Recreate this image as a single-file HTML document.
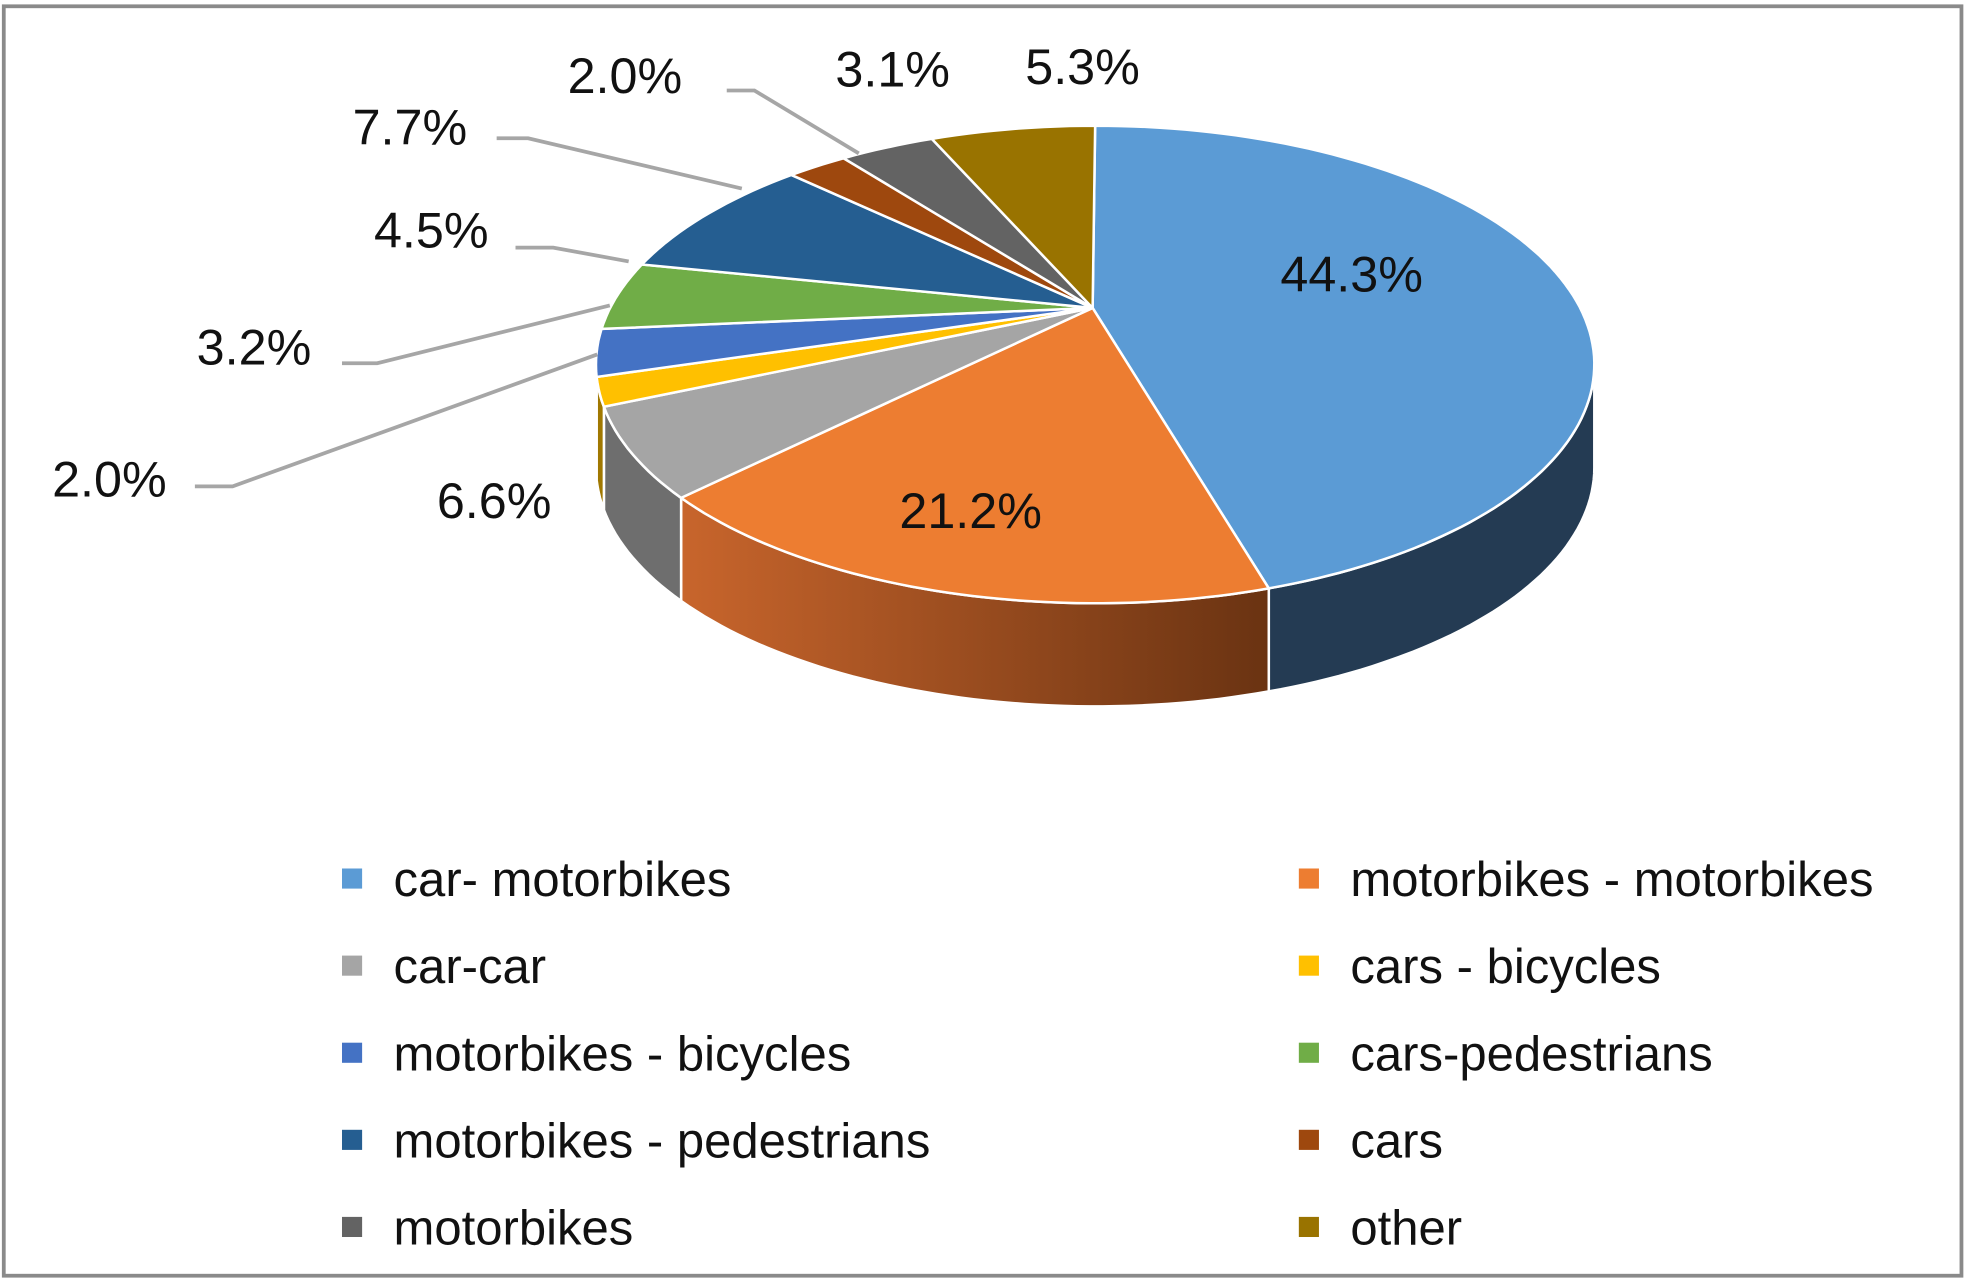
<!DOCTYPE html>
<html><head><meta charset="utf-8"><style>
html,body{margin:0;padding:0;background:#fff;}
svg{display:block;font-family:"Liberation Sans",Arial,sans-serif;}
</style></head><body>
<svg id="chart" width="1969" height="1282" viewBox="0 0 1566 1020" preserveAspectRatio="none" xmlns="http://www.w3.org/2000/svg">
<defs>
<linearGradient id="gOrange" x1="0" x2="1" y1="0" y2="0"><stop offset="0" stop-color="#c8652c"/><stop offset="1" stop-color="#6a3312"/></linearGradient>
</defs>
<rect x="3" y="5" width="1557" height="1010" fill="#fff" stroke="#8a8a8a" stroke-width="3"/>
<g id="sides"></g><g id="tops"></g><g id="leaders"></g><g id="labels"></g><g id="legend"></g>
</svg>
<script>
const categories = ["car- motorbikes","motorbikes - motorbikes","car-car","cars - bicycles","motorbikes - bicycles","cars-pedestrians","motorbikes - pedestrians","cars","motorbikes","other"];
const values = [44.3,21.2,6.6,2.0,3.2,4.5,7.7,2.0,3.1,5.3];
const valueLabels = ["44.3%","21.2%","6.6%","2.0%","3.2%","4.5%","7.7%","2.0%","3.1%","5.3%"];
const colors = ["#5b9bd5","#ed7d31","#a5a5a5","#ffc000","#4472c4","#70ad47","#255e91","#9e480e","#636363","#997300"];
const sideColors = ["#243b53","url(#gOrange)","#6e6e6e","#a07800","#2c4a80","#4a7530","#183e60","#6a300a","#424242","#665000"];
const labelPos = [[1075,232],[772,420],[393,412],[87,395],[202,290],[343,197],[326,115],[497,74],[710,69],[861,67]];
const leaderPts = [null,null,null,[[155,387],[185,387],[475,282]],[[272,289],[300,289],[485,243]],[[410,197],[440,197],[500,208]],[[395,110],[420,110],[590,150]],[[578,72],[600,72],[683,122]],null,null];
const NS="http://www.w3.org/2000/svg";
const cx=871, cy=290, rx=397, ry=190, depth=82, ax=869, ay=245;
const total=values.reduce((a,b)=>a+b,0);
function pt(deg,dy){const r=deg*Math.PI/180;return [cx+rx*Math.sin(r), cy-ry*Math.cos(r)+(dy||0)];}
function arcPts(a0,a1,dy){const p=[];const n=Math.max(4,Math.ceil((a1-a0)/1.5));for(let i=0;i<=n;i++)p.push(pt(a0+(a1-a0)*i/n,dy));return p;}
const sides=document.getElementById('sides'),tops=document.getElementById('tops'),labels=document.getElementById('labels'),leaders=document.getElementById('leaders'),legend=document.getElementById('legend');
let cum=0;
values.forEach((v,i)=>{
  const a0=cum/total*360, a1=(cum+v)/total*360; cum+=v;
  const s0=Math.max(a0,90), s1=Math.min(a1,270);
  if(s1>s0){
    const top=arcPts(s0,s1,0), bot=arcPts(s0,s1,depth).reverse();
    const side=document.createElementNS(NS,'path');
    side.setAttribute('d','M'+top.concat(bot).map(p=>p[0].toFixed(1)+','+p[1].toFixed(1)).join('L')+'Z');
    side.setAttribute('fill',sideColors[i]);side.setAttribute('stroke','#fff');side.setAttribute('stroke-width','2');
    
    
    sides.appendChild(side);
  }
  const pts=[[ax,ay]].concat(arcPts(a0,a1,0));
  const sl=document.createElementNS(NS,'path');
  sl.setAttribute('d','M'+pts.map(p=>p[0].toFixed(1)+','+p[1].toFixed(1)).join('L')+'Z');
  sl.setAttribute('fill',colors[i]);sl.setAttribute('stroke','#fff');sl.setAttribute('stroke-width','2');
  
  
  tops.appendChild(sl);
  const t=document.createElementNS(NS,'text');
  t.setAttribute('x',labelPos[i][0]);t.setAttribute('y',labelPos[i][1]);
  t.setAttribute('text-anchor','middle');t.setAttribute('font-size','40');t.setAttribute('fill','#111');
  t.textContent=valueLabels[i];
  
  
  labels.appendChild(t);
  if(leaderPts[i]){
    const pl=document.createElementNS(NS,'polyline');
    pl.setAttribute('points',leaderPts[i].map(p=>p.join(',')).join(' '));
    pl.setAttribute('fill','none');pl.setAttribute('stroke','#a6a6a6');pl.setAttribute('stroke-width','3');
    
    
    leaders.appendChild(pl);
  }
  const col=i%2,row=Math.floor(i/2);
  const lx=col?1033:272, ly=700+row*69.3;
  const g=document.createElementNS(NS,'g');
  
  
  const sq=document.createElementNS(NS,'rect');
  sq.setAttribute('x',lx);sq.setAttribute('y',ly-9);sq.setAttribute('width',16);sq.setAttribute('height',16);sq.setAttribute('fill',colors[i]);
  
  
  const lt=document.createElementNS(NS,'text');
  lt.setAttribute('x',lx+41);lt.setAttribute('y',ly+13);lt.setAttribute('font-size','39');lt.setAttribute('fill','#111');
  lt.textContent=categories[i];
  
  
  g.appendChild(sq);g.appendChild(lt);legend.appendChild(g);
});
</script>
</body></html>
